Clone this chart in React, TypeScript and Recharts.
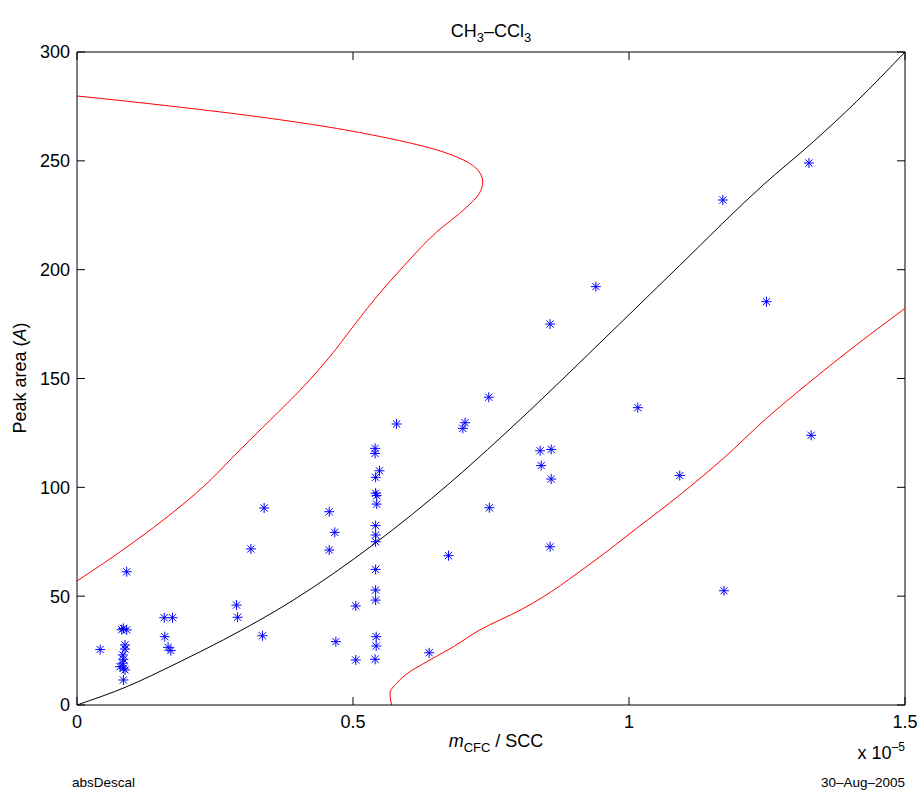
import React from "react";
import { ComposedChart, Line, ReferenceLine, Scatter, XAxis, YAxis } from "recharts";

// measured samples (x in units of 1e-5)
const sampleX = [
	0.042, 0.09, 0.084, 0.09, 0.081, 0.087, 0.087, 0.083, 0.084, 0.083, 0.078, 0.084, 0.087, 0.084,
	0.158, 0.173, 0.159, 0.165, 0.17, 0.289, 0.291, 0.336, 0.315, 0.339, 0.579, 0.703, 0.699, 0.54,
	0.54, 0.548, 0.541, 0.541, 0.543, 0.543, 0.457, 0.467, 0.457, 0.541, 0.541, 0.541, 0.673, 0.541,
	0.541, 0.541, 0.505, 0.469, 0.542, 0.542, 0.505, 0.54, 0.638, 0.94, 1.249, 0.857, 0.746, 1.016,
	1.33, 0.839, 0.859, 0.841, 0.859, 1.092, 0.747, 0.857, 1.172, 1.17, 1.326,
];
const sampleY = [
	25.5, 61.2, 35.2, 34.5, 34.6, 27.6, 25.7, 23, 21, 19.2, 17.6, 16.9, 16.1, 11.5,
	40.1, 40.1, 31.4, 26.5, 25, 45.9, 40.3, 31.8, 71.7, 90.5, 129.1, 129.7, 127.1, 117.9,
	115.6, 107.6, 104.6, 97.3, 96.2, 92.3, 88.8, 79.3, 71.2, 82.4, 78.1, 75, 68.6, 62.3,
	52.8, 48.2, 45.5, 29.1, 31.4, 27.1, 20.7, 21, 24, 192.2, 185.3, 175, 141.4, 136.6,
	123.9, 116.8, 117.4, 110, 103.8, 105.4, 90.6, 72.7, 52.5, 232, 249,
];

// calibration curve
const fitX = [0, 0.09, 0.181, 0.265, 0.392, 0.54, 0.676, 0.766, 0.981, 1.092, 1.243, 1.334, 1.412, 1.5];
const fitY = [0, 8.4, 19.2, 29.9, 48.2, 74.3, 102.1, 122.5, 174.6, 202, 238.9, 258.8, 277.2, 300];

// upper confidence bound (ordered by y)
const upperX = [
	0, 0.048, 0.108, 0.168, 0.229, 0.289, 0.35, 0.41, 0.458, 0.5, 0.543, 0.591, 0.652, 0.705, 0.729,
	0.735, 0.727, 0.7, 0.652, 0.573, 0.47, 0.35, 0.168, 0,
];
const upperY = [
	57, 65.1, 75.8, 87.3, 100.3, 115.6, 130.9, 146.2, 160, 173.8, 187.6, 201.4, 217.4, 228.5, 235.1,
	240.4, 245.5, 250.4, 255, 259.9, 264.9, 269.5, 275.2, 279.8,
];

// lower confidence bound (ordered by y)
const lowerX = [0.57, 0.567, 0.579, 0.603, 0.634, 0.682, 0.73, 0.806, 0.935, 1.014, 1.092, 1.171, 1.249, 1.328, 1.4, 1.5];
const lowerY = [0, 5.4, 10, 15.3, 19.9, 26.8, 34.5, 44, 65.8, 81.2, 96.5, 113.3, 131.7, 148.5, 163.1, 182.2];

const xTicks = [0, 0.5, 1, 1.5];
const yTicks = [0, 50, 100, 150, 200, 250, 300];
const xDomain = [0, 1.5];
const yDomain = [0, 300];

const zip = (xs: number[], ys: number[]) => xs.map((x, i) => ({ x, y: ys[i] }));

const W = 922;
const H = 794;
const MARGIN = { top: 52, right: 17, bottom: 59, left: 0 };
const Y_AXIS_W = 77;
const X_AXIS_H = 30;
const PLOT_LEFT = MARGIN.left + Y_AXIS_W;
const PLOT_RIGHT = W - MARGIN.right;
const PLOT_TOP = MARGIN.top;
const PLOT_BOTTOM = H - MARGIN.bottom - X_AXIS_H;

const FONT = "'Liberation Sans', Arial, sans-serif";
const TICK_LEN = 8;

function Asterisk(props: any) {
	const { cx, cy } = props;
	if (cx == null || cy == null) return null;
	const r = 5;
	const d = 3.6;
	return (
		<g stroke="#0000ff" strokeWidth={1}>
			<line x1={cx - r} y1={cy} x2={cx + r} y2={cy} />
			<line x1={cx} y1={cy - r} x2={cx} y2={cy + r} />
			<line x1={cx - d} y1={cy - d} x2={cx + d} y2={cy + d} />
			<line x1={cx - d} y1={cy + d} x2={cx + d} y2={cy - d} />
		</g>
	);
}

// matlab style: ticks point into the box, on both opposite sides
function BottomTick({ x, y, payload }: any) {
	return (
		<g>
			<line x1={x} y1={PLOT_BOTTOM} x2={x} y2={PLOT_BOTTOM - TICK_LEN} stroke="#000" />
			<line x1={x} y1={PLOT_TOP} x2={x} y2={PLOT_TOP + TICK_LEN} stroke="#000" />
			<text x={x} y={y} dy="0.71em" textAnchor="middle" fontSize={18} fontFamily={FONT} fill="#000">
				{String(payload.value)}
			</text>
		</g>
	);
}

function LeftTick({ x, y, payload }: any) {
	return (
		<g>
			<line x1={PLOT_LEFT} y1={y} x2={PLOT_LEFT + TICK_LEN} y2={y} stroke="#000" />
			<line x1={PLOT_RIGHT - TICK_LEN} y1={y} x2={PLOT_RIGHT} y2={y} stroke="#000" />
			<text x={x} y={y} dy="0.355em" textAnchor="end" fontSize={18} fontFamily={FONT} fill="#000">
				{String(payload.value)}
			</text>
		</g>
	);
}

function Sub({ children }: { children: React.ReactNode }) {
	return <span style={{ fontSize: 13, position: "relative", top: 5 }}>{children}</span>;
}

export default function App() {
	const samples = zip(sampleX, sampleY);
	const fit = zip(fitX, fitY);
	const upper = zip(upperX, upperY);
	const lower = zip(lowerX, lowerY);

	return (
		<div style={{ position: "absolute", left: 0, top: 0, width: W, height: H, background: "#fff", fontFamily: FONT }}>
			<ComposedChart width={W} height={H} margin={MARGIN}>
				<XAxis
					xAxisId="b"
					dataKey="x"
					type="number"
					domain={xDomain}
					ticks={xTicks}
					interval={0}
					height={X_AXIS_H}
					tickLine={false}
					tickSize={0}
					tickMargin={10}
					axisLine={{ stroke: "#000" }}
					tick={BottomTick}
					allowDataOverflow
				/>
				<XAxis
					xAxisId="t"
					orientation="top"
					dataKey="x"
					type="number"
					domain={xDomain}
					height={0}
					tick={false}
					tickLine={false}
					axisLine={{ stroke: "#000" }}
					allowDataOverflow
				/>
				<YAxis
					yAxisId="l"
					type="number"
					domain={yDomain}
					ticks={yTicks}
					interval={0}
					width={Y_AXIS_W}
					tickLine={false}
					tickSize={0}
					tickMargin={7}
					axisLine={{ stroke: "#000" }}
					tick={LeftTick}
					allowDataOverflow
				/>
				<YAxis
					yAxisId="r"
					orientation="right"
					type="number"
					domain={yDomain}
					width={0}
					tick={false}
					tickLine={false}
					axisLine={{ stroke: "#000" }}
					allowDataOverflow
				/>
				{/* box top and right edges */}
				<ReferenceLine xAxisId="b" yAxisId="l" y={yDomain[1]} stroke="#000" />
				<ReferenceLine xAxisId="b" yAxisId="l" x={xDomain[1]} stroke="#000" />
				<Line
					xAxisId="b"
					yAxisId="l"
					data={upper}
					dataKey="y"
					type="monotoneY"
					stroke="#ff0000"
					strokeWidth={1}
					dot={false}
					isAnimationActive={false}
				/>
				<Line
					xAxisId="b"
					yAxisId="l"
					data={lower}
					dataKey="y"
					type="monotoneY"
					stroke="#ff0000"
					strokeWidth={1}
					dot={false}
					isAnimationActive={false}
				/>
				{/* same domains as b/l */}
				<Line
					xAxisId="t"
					yAxisId="r"
					data={fit}
					dataKey="y"
					type="monotone"
					stroke="#000"
					strokeWidth={1}
					dot={false}
					isAnimationActive={false}
				/>
				<Scatter
					xAxisId="b"
					yAxisId="l"
					data={samples}
					dataKey="y"
					shape={<Asterisk />}
					isAnimationActive={false}
				/>
			</ComposedChart>

			<div style={{ position: "absolute", left: 77, width: 828, top: 22, textAlign: "center", fontSize: 18, lineHeight: 1, whiteSpace: "nowrap" }}>
				CH<Sub>3</Sub>–CCl<Sub>3</Sub>
			</div>
			<div style={{ position: "absolute", left: 77, width: 838, top: 732, textAlign: "center", fontSize: 18, lineHeight: 1, whiteSpace: "nowrap" }}>
				<i>m</i>
				<Sub>CFC</Sub> / SCC
			</div>
			<div style={{ position: "absolute", right: 17, top: 744, fontSize: 18, lineHeight: 1, whiteSpace: "nowrap" }}>
				x 10<span style={{ fontSize: 12, position: "relative", top: -8 }}>–5</span>
			</div>
			<div
				style={{
					position: "absolute",
					left: 20,
					top: 378,
					transform: "translate(-50%, -50%) rotate(-90deg)",
					fontSize: 18,
					lineHeight: 1,
					whiteSpace: "nowrap",
				}}
			>
				Peak area (<i>A</i>)
			</div>
			<div style={{ position: "absolute", left: 72, top: 776, fontSize: 13.5, lineHeight: 1 }}>absDescal</div>
			<div style={{ position: "absolute", right: 17, top: 776, fontSize: 13.5, lineHeight: 1 }}>30–Aug–2005</div>
		</div>
	);
}
